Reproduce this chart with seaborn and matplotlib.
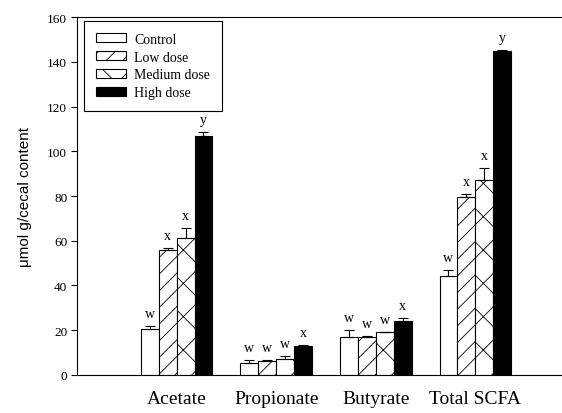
import matplotlib
matplotlib.use("Agg")
import matplotlib.pyplot as plt
import numpy as np
import pandas as pd
import seaborn as sns

acids = ["Acetate", "Propionate", "Butyrate", "Total SCFA"]
doses = ["Control", "Low dose", "Medium dose", "High dose"]

# mean values (umol g/cecal content), one list per dose, in acid order
control = [20.6, 5.2, 16.8, 44.4]
low_dose = [55.9, 6.4, 16.9, 79.4]
medium_dose = [61.1, 7.2, 19.1, 87.3]
high_dose = [106.8, 13.1, 24.3, 144.9]

# upper error (SE) per dose
control_err = [1.5, 1.5, 3.3, 2.5]
low_err = [0.9, 0.3, 0.4, 1.5]
medium_err = [4.7, 1.4, 0.3, 5.1]
high_err = [1.8, 0.5, 1.2, 0.4]

# significance letters
control_lbl = ["w", "w", "w", "w"]
low_lbl = ["x", "w", "w", "x"]
medium_lbl = ["x", "w", "w", "x"]
high_lbl = ["y", "x", "x", "y"]

values = [control, low_dose, medium_dose, high_dose]
errors = [control_err, low_err, medium_err, high_err]
letters = [control_lbl, low_lbl, medium_lbl, high_lbl]
hatches = ["", "//", "x", ""]

df = pd.DataFrame(
    [(a, d, v) for d, vals in zip(doses, values) for a, v in zip(acids, vals)],
    columns=["acid", "dose", "value"],
)

plt.rcParams["font.family"] = ["Liberation Serif", "DejaVu Serif"]
plt.rcParams["hatch.linewidth"] = 0.6
plt.rcParams["hatch.color"] = "#333333"

fig = plt.figure(figsize=(5.62, 4.14), dpi=100)
ax = fig.add_axes([0.137, 0.0918, 0.863, 0.8647])

palette = {"Control": "white", "Low dose": "white", "Medium dose": "white", "High dose": "black"}
sns.barplot(
    data=df, x="acid", y="value", hue="dose", order=acids, hue_order=doses,
    palette=palette, edgecolor="black", linewidth=0.8, width=0.72, gap=0,
    errorbar=None, legend=False, ax=ax,
)

for cont, hatch, err, lbls in zip(ax.containers, hatches, errors, letters):
    xs, hs = [], []
    for p in cont.patches:
        p.set_hatch(hatch)
        xs.append(p.get_x() + p.get_width() / 2)
        hs.append(p.get_height())
    ax.errorbar(xs, hs, yerr=[np.zeros(len(err)), err], fmt="none",
                ecolor="black", elinewidth=0.8, capsize=3.6, capthick=0.8, zorder=3)
    for x, h, e, t in zip(xs, hs, err, lbls):
        ax.text(x, h + e + 4, t, ha="center", va="baseline", fontsize=10)

ax.set_ylim(0, 160)
ax.set_yticks(range(0, 161, 20))
ax.set_xlim(-1.0, 3.87)
ax.set_xlabel("")
ax.set_ylabel("\u03bcmol g/cecal content", family="Liberation Sans", fontsize=11, labelpad=11)
ax.tick_params(axis="y", direction="out", length=4, width=0.8, labelsize=9.5, pad=3)
ax.tick_params(axis="x", length=0, labelsize=14, pad=11)
ax.spines["right"].set_visible(False)
for s in ["left", "bottom", "top"]:
    ax.spines[s].set_linewidth(0.8)

leg = ax.legend(
    handles=list(ax.containers[:4]), labels=doses,
    loc="upper left", bbox_to_anchor=(0.0145, 0.989), borderaxespad=0,
    fontsize=10, fancybox=False, edgecolor="black", framealpha=1,
    handlelength=2.2, handleheight=0.6, handletextpad=0.55,
    labelspacing=0.35, borderpad=0.85,
)
leg.get_frame().set_linewidth(0.8)

fig.savefig("out.png", dpi=100)
